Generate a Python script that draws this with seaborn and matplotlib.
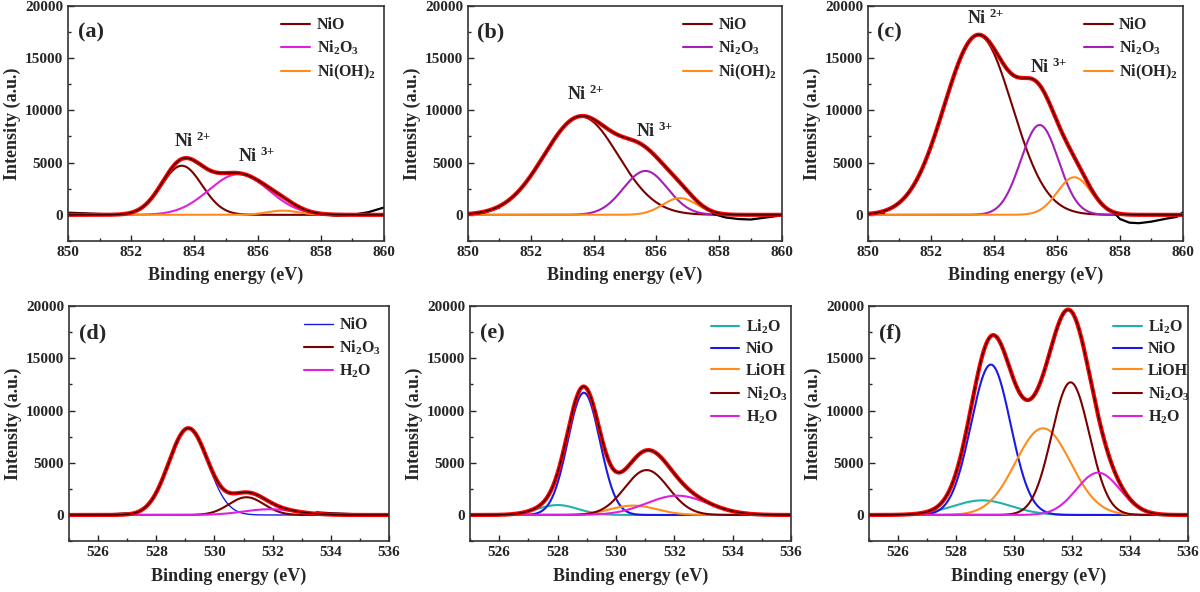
import numpy as np
import matplotlib
matplotlib.use("Agg")
import matplotlib.pyplot as plt
from matplotlib.ticker import MultipleLocator
import seaborn as sns

# ---- Ni 2p (panels a-c): fitted components, centre (eV), height, sigma (eV)
ni_names = ["NiO", "Ni$_2$O$_3$", "Ni(OH)$_2$"]

a_center = [853.6, 855.4, 856.8]
a_height = [4700, 3900, 400]
a_sigma = [0.64, 0.95, 0.5]

b_center = [853.6, 855.65, 856.75]
b_height = [9400, 4200, 1600]
b_sigma = [1.18, 0.7, 0.55]

c_center = [853.5, 855.45, 856.55]
c_height = [17200, 8600, 3600]
c_sigma = [1.08, 0.6, 0.54]

# ---- O 1s (panels d-f)
d_names = ["NiO", "Ni$_2$O$_3$", "H$_2$O"]
d_center = [529.1, 531.1, 531.9]
d_height = [8300, 1700, 550]
d_sigma = [0.67, 0.6, 0.9]

ef_names = ["Li$_2$O", "NiO", "LiOH", "Ni$_2$O$_3$", "H$_2$O"]
e_center = [528.0, 528.9, 530.6, 531.05, 532.1]
e_height = [950, 11700, 900, 4300, 1850]
e_sigma = [0.7, 0.55, 0.8, 0.75, 1.05]

f_center = [528.9, 529.2, 531.0, 531.95, 532.9]
f_height = [1400, 14400, 8300, 12700, 4050]
f_sigma = [1.0, 0.68, 0.95, 0.65, 0.75]

# ---- measured spectrum where it leaves the fitted envelope
a_tail_x = [[850, 850.5, 851, 851.5], [857.5, 858, 858.5, 859, 859.5, 860]]
a_tail_y = [[200, 150, 80, 30], [450, 60, -80, 0, 250, 700]]
b_tail_x = [[850, 850.5, 851], [857.8, 858.2, 858.6, 859, 859.5, 860]]
b_tail_y = [[30, 200, 700], [100, -250, -400, -450, -250, -50]]
c_tail_x = [[850, 850.5], [857.8, 858.0, 858.3, 858.6, 859.0, 859.5, 859.8, 860.0]]
c_tail_y = [[150, 150], [250, -400, -750, -800, -650, -350, -200, 250]]
d_tail_x = [[525, 526, 527], [533.5, 534, 534.5, 535, 535.5]]
d_tail_y = [[0, 20, 150], [250, 170, 110, 60, 0]]
e_tail_x = [[525.3, 525.6]]
e_tail_y = [[0, 0]]
f_tail_x = [[525.3, 525.5, 525.8]]
f_tail_y = [[0, 60, -40]]

ni_colors_a = ["#7a0000", "#e020e0", "#ff8c1a"]
ni_colors_bc = ["#7a0000", "#a31fb8", "#ff8c1a"]
d_colors = ["#1a1ae6", "#7a0000", "#e020e0"]
ef_colors = ["#20b2aa", "#1a1ae6", "#ff8c1a", "#7a0000", "#e020e0"]

sns.set_theme(style="ticks")
plt.rcParams["font.family"] = ["Liberation Serif", "DejaVu Serif"]
plt.rcParams["font.weight"] = "bold"
plt.rcParams["mathtext.fontset"] = "custom"
plt.rcParams["mathtext.rm"] = "Liberation Serif:bold"
plt.rcParams["mathtext.bf"] = "Liberation Serif:bold"
plt.rcParams["mathtext.it"] = "Liberation Serif:bold"
plt.rcParams["mathtext.default"] = "rm"


def gauss(x, c, h, s):
    return h * np.exp(-(x - c) ** 2 / (2 * s ** 2))


def panel(ax, xlim, names, centers, heights, sigmas, colors, tails_x, tails_y,
          tag, leg_x, lws=None):
    x = np.linspace(xlim[0], xlim[1], 600)
    comps = [gauss(x, c, h, s) for c, h, s in zip(centers, heights, sigmas)]
    total = np.sum(comps, axis=0)
    if lws is None:
        lws = [1.5] * len(names)
    for comp, name, col, lw in zip(comps, names, colors, lws):
        sns.lineplot(x=x, y=comp, ax=ax, color=col, lw=lw, label=name)
    for tx, ty in zip(tails_x, tails_y):
        sns.lineplot(x=tx, y=ty, ax=ax, color="black", lw=1.6, sort=False)
    sns.lineplot(x=x, y=total, ax=ax, color="#ff0000", lw=3.0)
    sns.lineplot(x=x, y=total, ax=ax, color="#3a0000", lw=1.0)

    ax.set_xlim(*xlim)
    ax.set_ylim(-2500, 20000)
    ax.xaxis.set_major_locator(MultipleLocator(2))
    ax.xaxis.set_minor_locator(MultipleLocator(1))
    ax.yaxis.set_major_locator(MultipleLocator(5000))
    ax.yaxis.set_minor_locator(MultipleLocator(2500))
    ax.tick_params(which="both", direction="in", labelsize=11, width=1)
    ax.tick_params(which="major", length=4)
    ax.tick_params(which="minor", length=2)
    for lab in ax.get_xticklabels() + ax.get_yticklabels():
        lab.set_fontweight("bold")
    for sp in ax.spines.values():
        sp.set_linewidth(1.2)
        sp.set_color("#333333")
    ax.set_xlabel("Binding energy (eV)", fontsize=13, fontweight="bold", labelpad=6)
    ax.set_ylabel("Intensity (a.u.)", fontsize=13, fontweight="bold", labelpad=3)
    ax.text(0.03, 0.885, tag, transform=ax.transAxes, fontsize=16,
            fontweight="bold", va="center", ha="left")
    leg = ax.legend(loc="upper left", bbox_to_anchor=(leg_x, 1.0), frameon=False,
                    fontsize=11.5, handlelength=1.8, handletextpad=0.4,
                    labelspacing=0.35, borderaxespad=0.3)
    for t in leg.get_texts():
        t.set_fontweight("bold")


fig = plt.figure(figsize=(12, 5.92), dpi=100)
ax_a = fig.add_axes([0.0567, 0.593, 0.2633, 0.397])
ax_b = fig.add_axes([0.390, 0.593, 0.2617, 0.397])
ax_c = fig.add_axes([0.7233, 0.593, 0.2625, 0.397])
ax_d = fig.add_axes([0.0575, 0.086, 0.2667, 0.397])
ax_e = fig.add_axes([0.3917, 0.086, 0.2675, 0.397])
ax_f = fig.add_axes([0.7242, 0.086, 0.2658, 0.397])

panel(ax_a, (850, 860), ni_names, a_center, a_height, a_sigma, ni_colors_a,
      a_tail_x, a_tail_y, "(a)", 0.64)
panel(ax_b, (850, 860), ni_names, b_center, b_height, b_sigma, ni_colors_bc,
      b_tail_x, b_tail_y, "(b)", 0.65)
panel(ax_c, (850, 860), ni_names, c_center, c_height, c_sigma, ni_colors_bc,
      c_tail_x, c_tail_y, "(c)", 0.65)
panel(ax_d, (525, 536), d_names, d_center, d_height, d_sigma, d_colors,
      d_tail_x, d_tail_y, "(d)", 0.70, lws=[1.0, 1.5, 1.5])
panel(ax_e, (525, 536), ef_names, e_center, e_height, e_sigma, ef_colors,
      e_tail_x, e_tail_y, "(e)", 0.715)
panel(ax_f, (525, 536), ef_names, f_center, f_height, f_sigma, ef_colors,
      f_tail_x, f_tail_y, "(f)", 0.73)

# oxidation state labels
ann = [(ax_a, 853.35, 6500, "2"), (ax_a, 855.38, 5100, "3"),
       (ax_b, 853.15, 11000, "2"), (ax_b, 855.35, 7450, "3"),
       (ax_c, 853.14, 18300, "2"), (ax_c, 855.15, 13600, "3")]
for ax, x0, y0, ch in ann:
    ax.text(x0, y0, "Ni $^{" + ch + "{+}}$", fontsize=13, fontweight="bold",
            ha="left", va="baseline")

fig.savefig("out.png", dpi=100)
